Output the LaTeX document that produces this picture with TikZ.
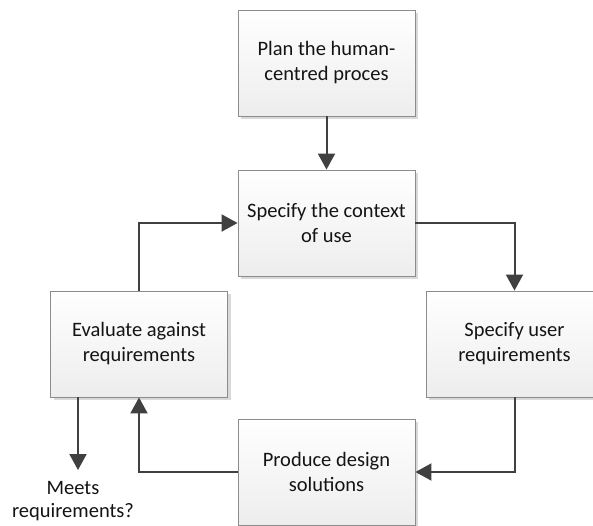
\documentclass[tikz,border=0pt]{standalone}
\usepackage{fontspec}
\setmainfont{Carlito}
\usetikzlibrary{arrows.meta,shadows}
\definecolor{boxline}{HTML}{8C8C8C}
\definecolor{arrowc}{HTML}{404040}
\definecolor{txt}{HTML}{141414}
\tikzset{
  stepbox/.style={draw=boxline, line width=0.9pt, top color=white, bottom color=black!7,
    minimum width=177pt, minimum height=106pt, align=center, text=txt,
    font=\fontsize{20.5}{25}\selectfont,
    drop shadow={shadow xshift=3pt, shadow yshift=-3pt, fill=black!15, opacity=1}},
  flow/.style={draw=arrowc, line width=2pt, -{Triangle[width=17pt,length=16pt]}},
  lbl/.style={text=txt, align=center, font=\fontsize{20.5}{23}\selectfont, inner sep=0pt}
}
\begin{document}
\begin{tikzpicture}[x=1pt,y=-1pt]
\clip (0,0) rectangle (593,525);
\fill[white] (0,0) rectangle (593,525);
\node[stepbox] (plan) at (326.5,63) {Plan the human-\\centred proces};
\node[stepbox] (ctx) at (326.5,223) {Specify the context\\of use};
\node[stepbox] (user) at (514.5,344) {Specify user\\requirements};
\node[stepbox] (prod) at (326.5,472) {Produce design\\solutions};
\node[stepbox] (eval) at (139,344) {Evaluate against\\requirements};
\coordinate (m) at (78,470);
\node[lbl] (meets) at (73,501) {Meets\\requirements?};
\draw[flow] (plan.south) -- (ctx.north);
\draw[flow] (ctx.east) -| (user.north);
\draw[flow] (user.south) |- (prod.east);
\draw[flow] (prod.west) -| (eval.south);
\draw[flow] (eval.north) |- (ctx.west);
\draw[flow] (eval.south -| m) -- (m);
\end{tikzpicture}
\end{document}
